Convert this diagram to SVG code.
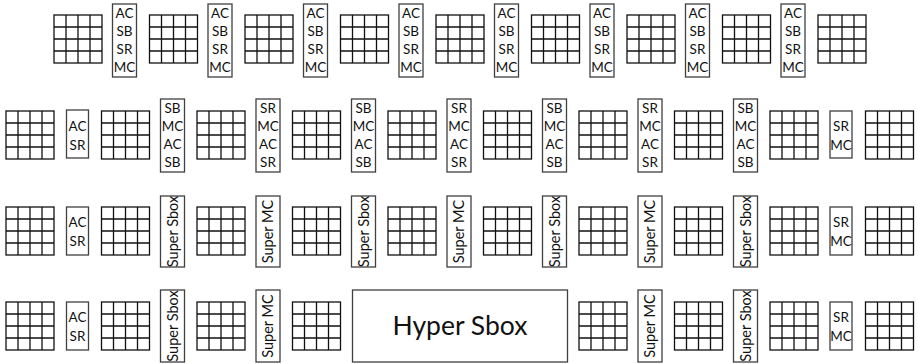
<svg xmlns="http://www.w3.org/2000/svg" xmlns:xlink="http://www.w3.org/1999/xlink" width="918" height="364" viewBox="0 0 918 364">
<style>
.bx{fill:#fff;stroke:#404040;stroke-width:1.3}
.gl{fill:none;stroke:#111;stroke-width:1.3}
.t{font-family:Lato,"Open Sans",sans-serif;font-size:13.5px;fill:#111;text-anchor:middle}
.v{font-family:Lato,"Open Sans",sans-serif;font-size:14.5px;fill:#111;text-anchor:middle}
.h{font-family:Lato,"Open Sans",sans-serif;font-size:26.5px;fill:#111;text-anchor:middle}
</style>
<defs>
<g id="grid">
<rect class="gl" x="0" y="0" width="48" height="48" fill="#fff"/>
<path class="gl" d="M12 0V48M24 0V48M36 0V48M0 12H48M0 24H48M0 36H48"/>
</g>
</defs>
<rect width="918" height="364" fill="#fff"/>
<g id="connectors"></g>
<!-- Row 1 -->
<g id="r1">
<g id="r1g1"><use xlink:href="#grid" x="54" y="15"/></g>
<g id="r1g2"><use xlink:href="#grid" x="149.5" y="15"/></g>
<g id="r1g3"><use xlink:href="#grid" x="245" y="15"/></g>
<g id="r1g4"><use xlink:href="#grid" x="340.5" y="15"/></g>
<g id="r1g5"><use xlink:href="#grid" x="436" y="15"/></g>
<g id="r1g6"><use xlink:href="#grid" x="531.5" y="15"/></g>
<g id="r1g7"><use xlink:href="#grid" x="627" y="15"/></g>
<g id="r1g8"><use xlink:href="#grid" x="722.5" y="15"/></g>
<g id="r1g9"><use xlink:href="#grid" x="818" y="15"/></g>
<g id="r1b1"><rect class="bx" x="112.5" y="4" width="24" height="73"/><text class="t" x="124.5" y="18">AC</text><text class="t" x="124.5" y="36">SB</text><text class="t" x="124.5" y="54">SR</text><text class="t" x="124.5" y="72">MC</text></g>
<g id="r1b2"><rect class="bx" x="208" y="4" width="24" height="73"/><text class="t" x="220" y="18">AC</text><text class="t" x="220" y="36">SB</text><text class="t" x="220" y="54">SR</text><text class="t" x="220" y="72">MC</text></g>
<g id="r1b3"><rect class="bx" x="303.5" y="4" width="24" height="73"/><text class="t" x="315.5" y="18">AC</text><text class="t" x="315.5" y="36">SB</text><text class="t" x="315.5" y="54">SR</text><text class="t" x="315.5" y="72">MC</text></g>
<g id="r1b4"><rect class="bx" x="399" y="4" width="24" height="73"/><text class="t" x="411" y="18">AC</text><text class="t" x="411" y="36">SB</text><text class="t" x="411" y="54">SR</text><text class="t" x="411" y="72">MC</text></g>
<g id="r1b5"><rect class="bx" x="494.5" y="4" width="24" height="73"/><text class="t" x="506.5" y="18">AC</text><text class="t" x="506.5" y="36">SB</text><text class="t" x="506.5" y="54">SR</text><text class="t" x="506.5" y="72">MC</text></g>
<g id="r1b6"><rect class="bx" x="590" y="4" width="24" height="73"/><text class="t" x="602" y="18">AC</text><text class="t" x="602" y="36">SB</text><text class="t" x="602" y="54">SR</text><text class="t" x="602" y="72">MC</text></g>
<g id="r1b7"><rect class="bx" x="685.5" y="4" width="24" height="73"/><text class="t" x="697.5" y="18">AC</text><text class="t" x="697.5" y="36">SB</text><text class="t" x="697.5" y="54">SR</text><text class="t" x="697.5" y="72">MC</text></g>
<g id="r1b8"><rect class="bx" x="781" y="4" width="24" height="73"/><text class="t" x="793" y="18">AC</text><text class="t" x="793" y="36">SB</text><text class="t" x="793" y="54">SR</text><text class="t" x="793" y="72">MC</text></g>
</g>
<!-- Row 2 -->
<g id="r2">
<g id="r2g1"><use xlink:href="#grid" x="6" y="111"/></g>
<g id="r2g2"><use xlink:href="#grid" x="101.5" y="111"/></g>
<g id="r2g3"><use xlink:href="#grid" x="197" y="111"/></g>
<g id="r2g4"><use xlink:href="#grid" x="292.5" y="111"/></g>
<g id="r2g5"><use xlink:href="#grid" x="388" y="111"/></g>
<g id="r2g6"><use xlink:href="#grid" x="483.5" y="111"/></g>
<g id="r2g7"><use xlink:href="#grid" x="579" y="111"/></g>
<g id="r2g8"><use xlink:href="#grid" x="674.5" y="111"/></g>
<g id="r2g9"><use xlink:href="#grid" x="770" y="111"/></g>
<g id="r2g10"><use xlink:href="#grid" x="865.5" y="111"/></g>
<g id="r2s1"><rect class="bx" x="66.5" y="110" width="22" height="48"/><text class="t" x="77.5" y="131">AC</text><text class="t" x="77.5" y="150">SR</text></g>
<g id="r2s2"><rect class="bx" x="830" y="111" width="22" height="47"/><text class="t" x="841" y="131">SR</text><text class="t" x="841" y="150">MC</text></g>
<g id="r2b1"><rect class="bx" x="160.5" y="99" width="24" height="73"/><text class="t" x="172.5" y="113">SB</text><text class="t" x="172.5" y="131">MC</text><text class="t" x="172.5" y="149">AC</text><text class="t" x="172.5" y="167">SB</text></g>
<g id="r2b2"><rect class="bx" x="256" y="99" width="24" height="73"/><text class="t" x="268" y="113">SR</text><text class="t" x="268" y="131">MC</text><text class="t" x="268" y="149">AC</text><text class="t" x="268" y="167">SR</text></g>
<g id="r2b3"><rect class="bx" x="351.5" y="99" width="24" height="73"/><text class="t" x="363.5" y="113">SB</text><text class="t" x="363.5" y="131">MC</text><text class="t" x="363.5" y="149">AC</text><text class="t" x="363.5" y="167">SB</text></g>
<g id="r2b4"><rect class="bx" x="447" y="99" width="24" height="73"/><text class="t" x="459" y="113">SR</text><text class="t" x="459" y="131">MC</text><text class="t" x="459" y="149">AC</text><text class="t" x="459" y="167">SR</text></g>
<g id="r2b5"><rect class="bx" x="542.5" y="99" width="24" height="73"/><text class="t" x="554.5" y="113">SB</text><text class="t" x="554.5" y="131">MC</text><text class="t" x="554.5" y="149">AC</text><text class="t" x="554.5" y="167">SB</text></g>
<g id="r2b6"><rect class="bx" x="638" y="99" width="24" height="73"/><text class="t" x="650" y="113">SR</text><text class="t" x="650" y="131">MC</text><text class="t" x="650" y="149">AC</text><text class="t" x="650" y="167">SR</text></g>
<g id="r2b7"><rect class="bx" x="733.5" y="99" width="24" height="73"/><text class="t" x="745.5" y="113">SB</text><text class="t" x="745.5" y="131">MC</text><text class="t" x="745.5" y="149">AC</text><text class="t" x="745.5" y="167">SB</text></g>
</g>
<!-- Row 3 -->
<g id="r3">
<g id="r3g1"><use xlink:href="#grid" x="6" y="207"/></g>
<g id="r3g2"><use xlink:href="#grid" x="101.5" y="207"/></g>
<g id="r3g3"><use xlink:href="#grid" x="197" y="207"/></g>
<g id="r3g4"><use xlink:href="#grid" x="292.5" y="207"/></g>
<g id="r3g5"><use xlink:href="#grid" x="388" y="207"/></g>
<g id="r3g6"><use xlink:href="#grid" x="483.5" y="207"/></g>
<g id="r3g7"><use xlink:href="#grid" x="579" y="207"/></g>
<g id="r3g8"><use xlink:href="#grid" x="674.5" y="207"/></g>
<g id="r3g9"><use xlink:href="#grid" x="770" y="207"/></g>
<g id="r3g10"><use xlink:href="#grid" x="865.5" y="207"/></g>
<g id="r3s1"><rect class="bx" x="66.5" y="207" width="22" height="48"/><text class="t" x="77.5" y="227">AC</text><text class="t" x="77.5" y="245.5">SR</text></g>
<g id="r3s2"><rect class="bx" x="830" y="207" width="22" height="48"/><text class="t" x="841" y="227">SR</text><text class="t" x="841" y="245.5">MC</text></g>
<g id="r3b1"><rect class="bx" x="160.5" y="196" width="24" height="71"/><text class="v" transform="translate(177.5,231.5) rotate(-90)">Super Sbox</text></g>
<g id="r3b2"><rect class="bx" x="256" y="196" width="24" height="71"/><text class="v" transform="translate(273,231.5) rotate(-90)">Super MC</text></g>
<g id="r3b3"><rect class="bx" x="351.5" y="196" width="24" height="71"/><text class="v" transform="translate(368.5,231.5) rotate(-90)">Super Sbox</text></g>
<g id="r3b4"><rect class="bx" x="447" y="196" width="24" height="71"/><text class="v" transform="translate(464,231.5) rotate(-90)">Super MC</text></g>
<g id="r3b5"><rect class="bx" x="542.5" y="196" width="24" height="71"/><text class="v" transform="translate(559.5,231.5) rotate(-90)">Super Sbox</text></g>
<g id="r3b6"><rect class="bx" x="638" y="196" width="24" height="71"/><text class="v" transform="translate(655,231.5) rotate(-90)">Super MC</text></g>
<g id="r3b7"><rect class="bx" x="733.5" y="196" width="24" height="71"/><text class="v" transform="translate(750.5,231.5) rotate(-90)">Super Sbox</text></g>
</g>
<!-- Row 4 -->
<g id="r4">
<g id="r4g1"><use xlink:href="#grid" x="6" y="302"/></g>
<g id="r4g2"><use xlink:href="#grid" x="101.5" y="302"/></g>
<g id="r4g3"><use xlink:href="#grid" x="197" y="302"/></g>
<g id="r4g4"><use xlink:href="#grid" x="292.5" y="302"/></g>
<g id="r4g7"><use xlink:href="#grid" x="579" y="302"/></g>
<g id="r4g8"><use xlink:href="#grid" x="674.5" y="302"/></g>
<g id="r4g9"><use xlink:href="#grid" x="770" y="302"/></g>
<g id="r4g10"><use xlink:href="#grid" x="865.5" y="302"/></g>
<g id="r4s1"><rect class="bx" x="66.5" y="302" width="22" height="48"/><text class="t" x="77.5" y="322">AC</text><text class="t" x="77.5" y="340.5">SR</text></g>
<g id="r4s2"><rect class="bx" x="830" y="302" width="22" height="48"/><text class="t" x="841" y="322">SR</text><text class="t" x="841" y="340.5">MC</text></g>
<g id="r4b1"><rect class="bx" x="160.5" y="290" width="24" height="72"/><text class="v" transform="translate(177.5,326) rotate(-90)">Super Sbox</text></g>
<g id="r4b2"><rect class="bx" x="256" y="290" width="24" height="72"/><text class="v" transform="translate(273,326) rotate(-90)">Super MC</text></g>
<g id="r4hyper"><rect class="bx" x="352.5" y="290" width="215" height="72"/><text class="h" x="460" y="335">Hyper Sbox</text></g>
<g id="r4b6"><rect class="bx" x="638" y="290" width="24" height="72"/><text class="v" transform="translate(655,326) rotate(-90)">Super MC</text></g>
<g id="r4b7"><rect class="bx" x="733.5" y="290" width="24" height="72"/><text class="v" transform="translate(750.5,326) rotate(-90)">Super Sbox</text></g>
</g>
</svg>
